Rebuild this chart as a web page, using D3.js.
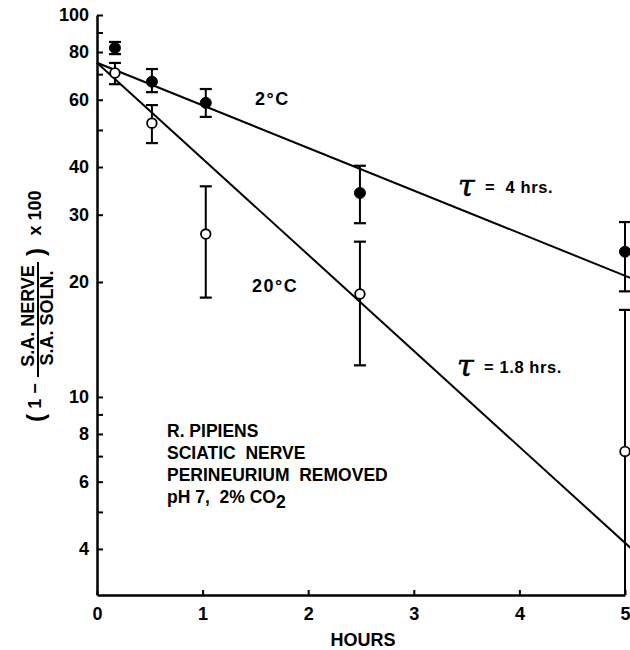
<!DOCTYPE html>
<html>
<head>
<meta charset="utf-8">
<script src="https://cdn.jsdelivr.net/npm/d3@7"></script>
<style>
  html, body { margin: 0; padding: 0; background: #fff; }
  svg { display: block; font-family: "Liberation Sans", Arial, sans-serif; font-weight: bold; }
  text { fill: #000; }
</style>
</head>
<body>
<svg id="chart" width="630" height="650"></svg>
<script>
// sampling times (hours)
const hours = [0.17, 0.52, 1.03, 2.49, 5.0]

// 2°C, filled circles
const cold = [82, 66.9, 58.9, 34.2, 24.0]
const coldLow = [79, 62.8, 54.1, 28.5, 18.9]
const coldHigh = [85, 72.2, 64.0, 40.3, 28.7]

// 20°C, open circles
const warm = [70.5, 52.1, 26.7, 18.6, 7.2]
const warmLow = [65.9, 46.2, 18.2, 12.1, 2.9]
const warmHigh = [74.9, 58.1, 35.6, 25.5, 16.9]

// fitted lines, end points
const fitHours = [0, 5.05]
const coldFit = [75, 20.5]
const warmFit = [75, 4.03]

const xTicks = [0, 1, 2, 3, 4, 5]
const yTicks = [4, 5, 6, 7, 8, 9, 10, 20, 30, 40, 50, 60, 70, 80, 90, 100]
const yLabels = [4, 6, 8, 10, 20, 30, 40, 60, 80, 100]

const infoLines = ['R. PIPIENS', 'SCIATIC  NERVE', 'PERINEURIUM  REMOVED']

const svg = d3.select('#chart')

const x = d3.scaleLinear().domain([0, 5]).range([97, 625])
const y = d3.scaleLog().domain([3.03, 100]).range([595, 15])
const yMin = y.domain()[0]

/* --------- AXES ---------*/
const xAxis = d3.axisBottom(x)
  .tickValues(xTicks)
  .tickSizeInner(-5)
  .tickSizeOuter(0)
  .tickPadding(12)
  .tickFormat(d3.format('d'))

const yAxis = d3.axisLeft(y)
  .tickValues(yTicks)
  .tickSizeInner(-6)
  .tickSizeOuter(0)
  .tickPadding(8)
  .tickFormat(d => yLabels.includes(d) ? d : '')

const gx = svg.append('g')
  .attr('transform', `translate(0,${y.range()[0]})`)
  .call(xAxis)
const gy = svg.append('g')
  .attr('transform', `translate(${x.range()[0]},0)`)
  .call(yAxis)

for (const g of [gx, gy]) {
  g.select('.domain').attr('stroke', '#000').attr('stroke-width', 2.5)
  g.selectAll('.tick line').attr('stroke', '#000').attr('stroke-width', 2)
  g.selectAll('.tick text')
    .attr('font-family', '"Liberation Sans", Arial, sans-serif')
    .attr('font-weight', 'bold')
    .attr('font-size', 18)
    .attr('fill', '#000')
}

/* --------- FIT LINES ---------*/
const line = d3.line().x(d => x(d[0])).y(d => y(d[1]))
for (const fit of [coldFit, warmFit]) {
  svg.append('path')
    .datum(fitHours.map((h, i) => [h, fit[i]]))
    .attr('d', line)
    .attr('fill', 'none')
    .attr('stroke', '#000')
    .attr('stroke-width', 2)
}

/* --------- ERROR BARS + POINTS ---------*/
function series(values, low, high, filled) {
  const data = hours.map((h, i) => ({ h, v: values[i], lo: low[i], hi: high[i] }))
  const g = svg.append('g')

  g.selectAll('line.err')
    .data(data)
    .enter()
    .append('line')
    .attr('class', 'err')
    .attr('x1', d => x(d.h))
    .attr('x2', d => x(d.h))
    .attr('y1', d => y(Math.max(d.lo, yMin)))
    .attr('y2', d => y(d.hi))
    .attr('stroke', '#000')
    .attr('stroke-width', 2)

  // caps (none where the bar runs off the bottom of the axis)
  const caps = []
  data.forEach(d => {
    caps.push({ h: d.h, v: d.hi })
    if (d.lo >= yMin) caps.push({ h: d.h, v: d.lo })
  })
  g.selectAll('line.cap')
    .data(caps)
    .enter()
    .append('line')
    .attr('class', 'cap')
    .attr('x1', d => x(d.h) - 6)
    .attr('x2', d => x(d.h) + 6)
    .attr('y1', d => y(d.v))
    .attr('y2', d => y(d.v))
    .attr('stroke', '#000')
    .attr('stroke-width', 2.2)

  g.selectAll('circle')
    .data(data)
    .enter()
    .append('circle')
    .attr('cx', d => x(d.h))
    .attr('cy', d => y(d.v))
    .attr('r', filled ? 5.5 : 4.8)
    .attr('fill', filled ? '#000' : '#fff')
    .attr('stroke', '#000')
    .attr('stroke-width', filled ? 1 : 1.8)
}

series(cold, coldLow, coldHigh, true)
series(warm, warmLow, warmHigh, false)

/* --------- ANNOTATIONS ---------*/
svg.append('text').attr('x', 255).attr('y', 105).attr('font-size', 18)
  .attr('letter-spacing', 1.5).text('2°C')
svg.append('text').attr('x', 252).attr('y', 292).attr('font-size', 18)
  .attr('letter-spacing', 1.5).text('20°C')

function tau(xPos, yPos, label) {
  svg.append('text').attr('x', xPos - 1).attr('y', yPos + 3)
    .attr('font-family', '"DejaVu Serif", serif')
    .attr('font-style', 'italic')
    .attr('font-weight', 'normal')
    .attr('font-size', 30)
    .attr('stroke', '#000')
    .attr('stroke-width', 0.6)
    .text('τ')
  svg.append('text').attr('x', xPos + 26).attr('y', yPos)
    .attr('font-size', 16.5)
    .attr('letter-spacing', 0.6)
    .style('white-space', 'pre')
    .text(label)
}
tau(459, 193, '=  4 hrs.')
tau(458, 373, '= 1.8 hrs.')

const info = svg.append('g').attr('font-size', 17.5)
info.selectAll('text.info')
  .data(infoLines)
  .enter()
  .append('text')
  .attr('class', 'info')
  .attr('x', 167)
  .attr('y', (d, i) => 437 + i * 22)
  .style('white-space', 'pre')
  .text(d => d)
const ph = info.append('text').attr('x', 167).attr('y', 437 + 3 * 22).style('white-space', 'pre')
ph.append('tspan').text('pH 7,  2% CO')
ph.append('tspan').attr('dy', 5).text('2')

svg.append('text')
  .attr('x', 363).attr('y', 646)
  .attr('text-anchor', 'middle')
  .attr('font-size', 18)
  .text('HOURS')

/* --------- Y LABEL (rotated) ---------*/
const yl = svg.append('g').attr('transform', 'rotate(-90)').attr('font-size', 18)
yl.append('text').attr('x', -418).attr('y', 44).attr('font-size', 24)
  .attr('text-anchor', 'middle').text('(')
yl.append('text').attr('x', -396).attr('y', 41)
  .attr('text-anchor', 'middle').text('1 −')
yl.append('line')
  .attr('x1', -377).attr('x2', -262)
  .attr('y1', 38).attr('y2', 38)
  .attr('stroke', '#000').attr('stroke-width', 2)
yl.append('text').attr('x', -316).attr('y', 34)
  .attr('text-anchor', 'middle').text('S.A. NERVE')
yl.append('text').attr('x', -318).attr('y', 53)
  .attr('text-anchor', 'middle').text('S.A. SOLN.')
yl.append('text').attr('x', -252).attr('y', 44).attr('font-size', 24)
  .attr('text-anchor', 'middle').text(')')
yl.append('text').attr('x', -213).attr('y', 41)
  .attr('text-anchor', 'middle').text('x 100')
</script>
</body>
</html>
